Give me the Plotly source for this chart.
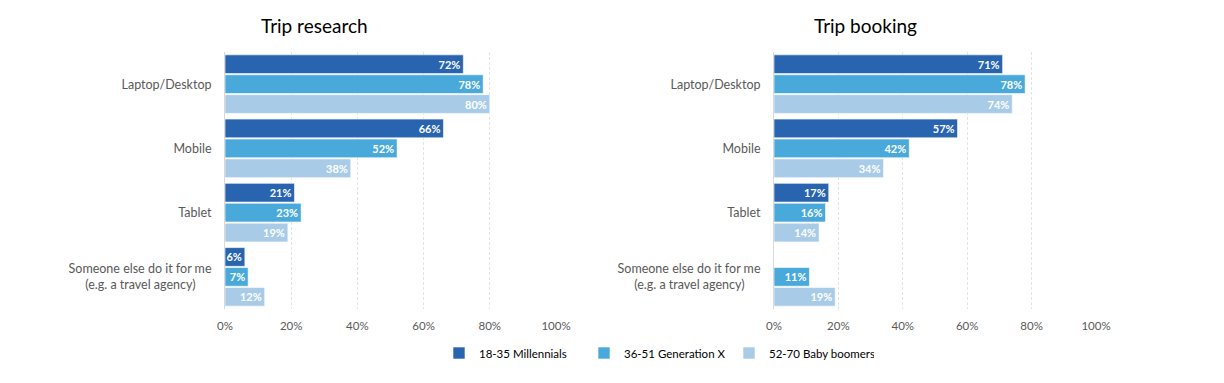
import plotly.graph_objects as go
from plotly.subplots import make_subplots

categories = ["Laptop/Desktop", "Mobile", "Tablet",
              "Someone else do it for me<br>(e.g. a travel agency)&nbsp;&nbsp;&nbsp;&nbsp;&nbsp;"]
series_names = ["18-35 Millennials", "36-51 Generation X", "52-70 Baby boomers"]
colors = ["#2864B0", "#4AA9DB", "#A8CBE8"]

research = {
    "18-35 Millennials": [72, 66, 21, 6],
    "36-51 Generation X": [78, 52, 23, 7],
    "52-70 Baby boomers": [80, 38, 19, 12],
}
booking = {
    "18-35 Millennials": [71, 57, 17, None],
    "36-51 Generation X": [78, 42, 16, 11],
    "52-70 Baby boomers": [74, 34, 14, 19],
}
x_ticks = [0, 20, 40, 60, 80, 100]
x_tick_labels = ["0%", "20%", "40%", "60%", "80%", "100%"]

FONT = "Lato, 'Open Sans', sans-serif"
W, H, OFF = 1224, 383, 8  # page body margin offset


def px_x(p):
    return (p - OFF) / W


def px_y(p):
    return 1 - (p - OFF) / H


fig = make_subplots(rows=1, cols=2)

for col, data in [(1, research), (2, booking)]:
    for name, color in zip(series_names, colors):
        vals = data[name]
        fig.add_trace(
            go.Bar(
                y=categories,
                x=vals,
                orientation="h",
                name=name,
                marker=dict(color=color, line=dict(color="rgba(255,255,255,0.6)", width=1)),
                text=[f"<b>{v}%</b>" if v is not None else "" for v in vals],
                textposition="inside",
                insidetextanchor="end",
                textfont=dict(color="white", size=11, family=FONT),
                constraintext="none",
                showlegend=(col == 1),
                legendgroup=name,
            ),
            row=1, col=col,
        )

axis_common = dict(
    range=[0, 100],
    tickvals=x_ticks,
    ticktext=x_tick_labels,
    showgrid=True,
    gridcolor="#E3E3E3",
    griddash="3px,2px",
    gridwidth=1,
    zeroline=False,
    automargin=False,
    tickfont=dict(size=11.5, color="#595959", family=FONT),
    ticks="",
    ticklabelstandoff=8,
    fixedrange=True,
)
fig.update_xaxes(**axis_common)
fig.update_xaxes(domain=[px_x(225), px_x(556)], row=1, col=1)
fig.update_xaxes(domain=[px_x(774), px_x(1096)], row=1, col=2)

fig.update_yaxes(
    autorange="reversed",
    showline=True,
    linecolor="#D9D9D9",
    linewidth=1,
    showgrid=False,
    automargin=False,
    ticks="",
    ticklabelstandoff=10,
    tickfont=dict(size=12.5, color="#595959", family=FONT),
    domain=[px_y(309), px_y(52)],
)

fig.update_layout(
    width=W,
    height=H,
    barmode="group",
    bargap=0.07,
    bargroupgap=0.06,
    plot_bgcolor="white",
    paper_bgcolor="white",
    margin=dict(l=0, r=0, t=0, b=0),
    font=dict(family=FONT, color="#404040"),
    legend=dict(
        orientation="h",
        x=px_x(439),
        xanchor="left",
        y=px_y(353),
        yanchor="middle",
        font=dict(size=11.5, color="#000000", family=FONT),
        entrywidth=100,
        entrywidthmode="pixels",
        itemwidth=30,
    ),
    annotations=[
        dict(text="Trip research", x=px_x(314), y=px_y(25), xref="paper", yref="paper",
             xanchor="center", yanchor="middle",
             showarrow=False, font=dict(size=19, color="#000000", family=FONT)),
        dict(text="Trip booking", x=px_x(865), y=px_y(25), xref="paper", yref="paper",
             xanchor="center", yanchor="middle",
             showarrow=False, font=dict(size=19, color="#000000", family=FONT)),
    ],
)

fig.write_html("out.html")
